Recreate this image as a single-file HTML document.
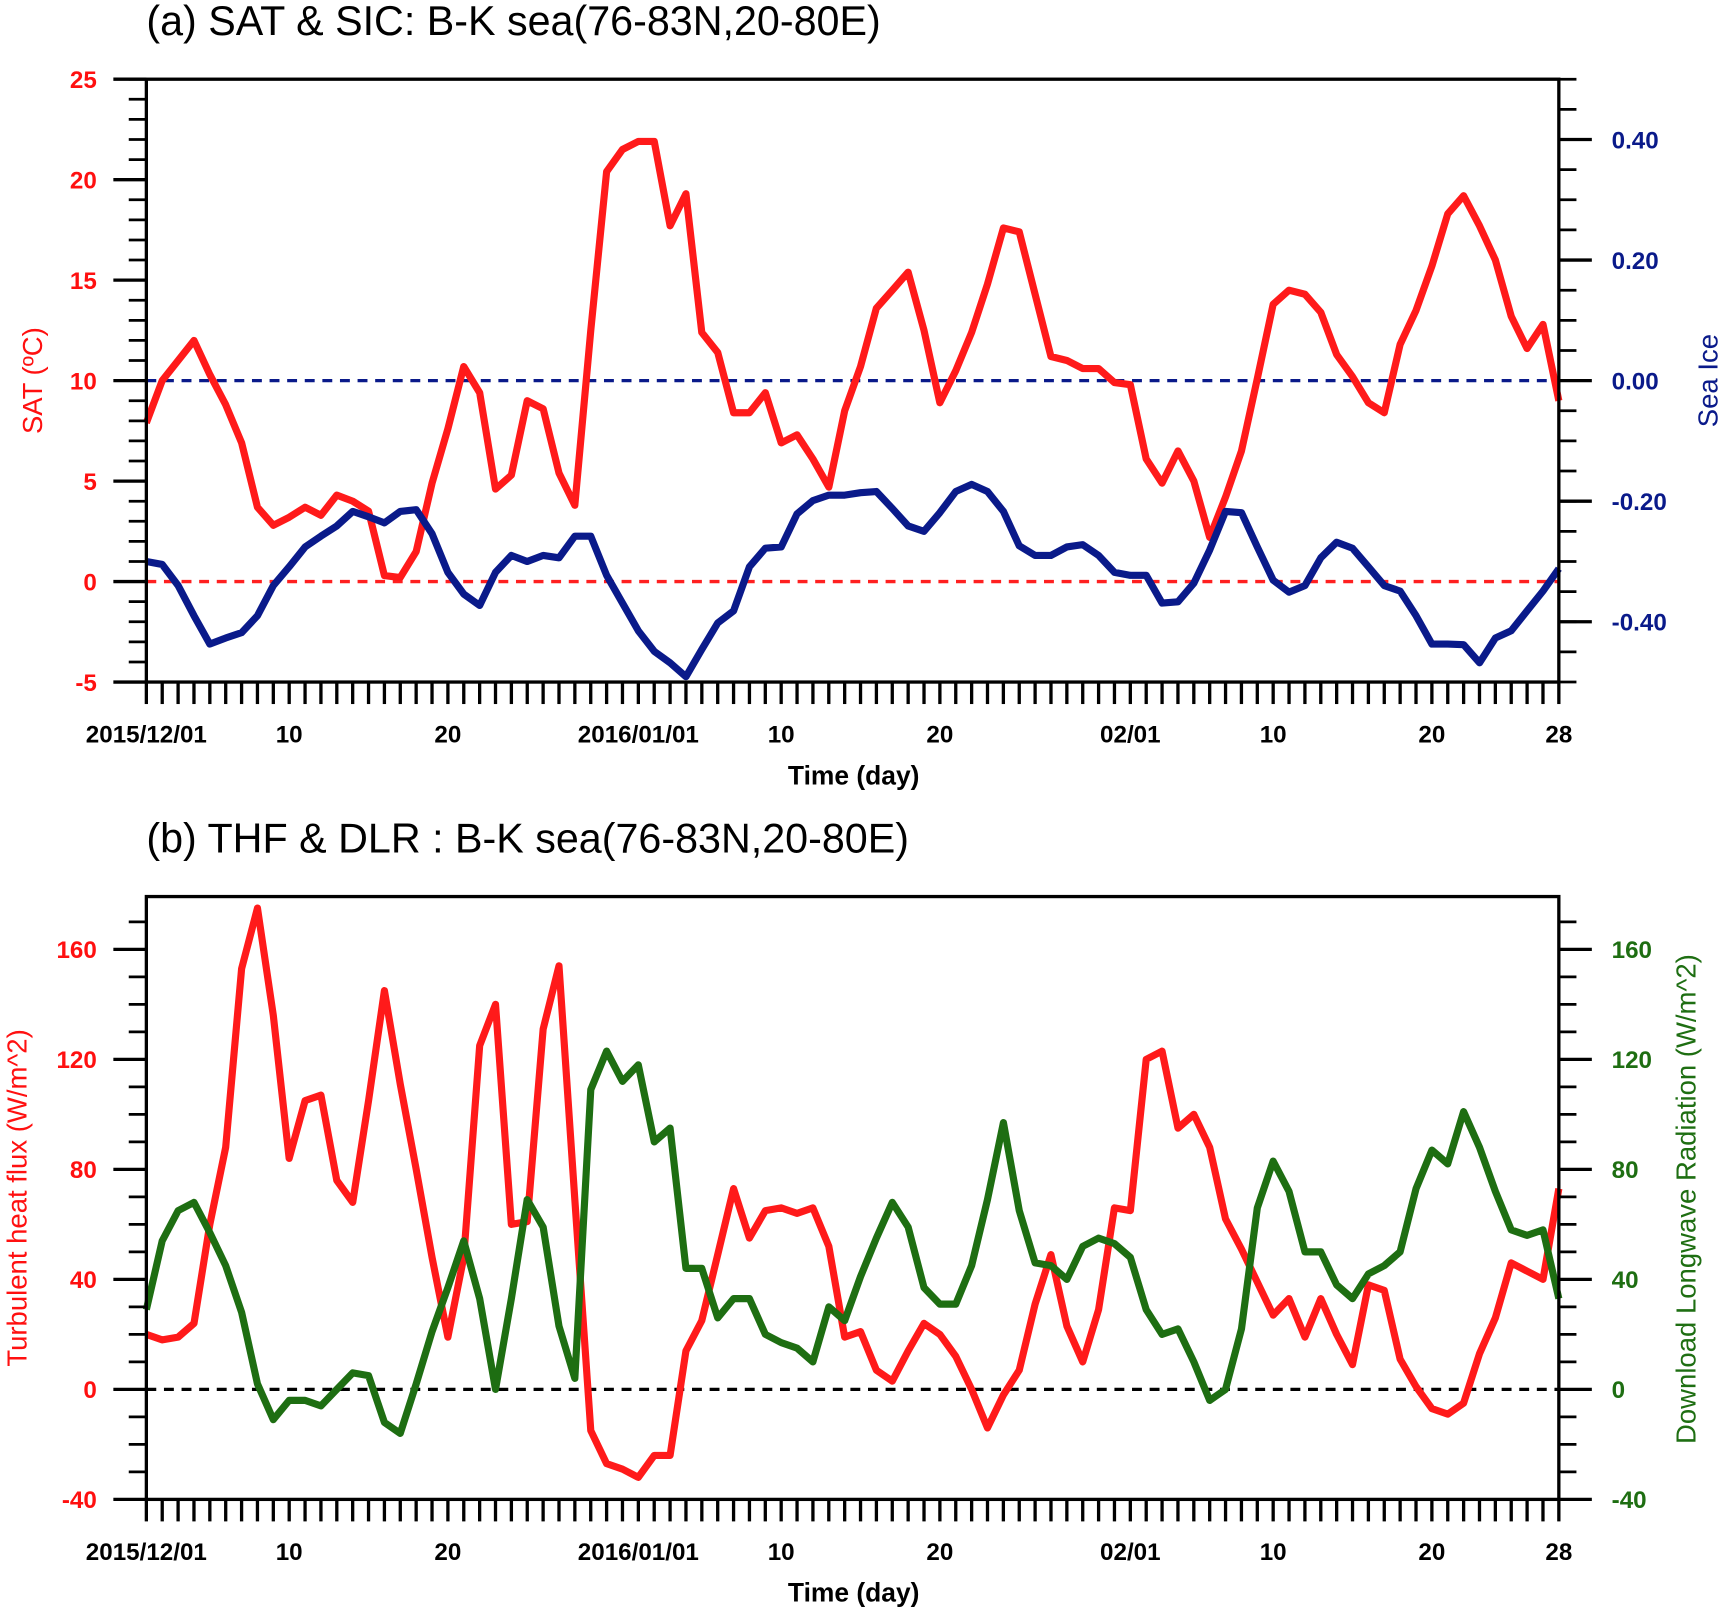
<!DOCTYPE html>
<html><head><meta charset="utf-8"><style>
html,body{margin:0;padding:0;background:#fff;}
svg{display:block;font-family:"Liberation Sans",Arial,sans-serif;}
</style></head><body>
<svg id="chart" width="1725" height="1616" viewBox="0 0 1568 1469" xmlns="http://www.w3.org/2000/svg"></svg>
<script>
const days = Array.from({length:90},(_,i)=>i);
const dateTickDays = [0,9,19,31,40,50,62,71,81,89];
const dateTickLabels = ["2015/12/01","10","20","2016/01/01","10","20","02/01","10","20","28"];
const satValues = [7.9,10,11,12,10.3,8.8,6.9,3.7,2.8,3.2,3.7,3.3,4.3,4.0,3.5,0.3,0.2,1.5,4.9,7.6,10.7,9.4,4.6,5.3,9.0,8.6,5.4,3.8,12.5,20.4,21.5,21.9,21.9,17.7,19.3,12.4,11.4,8.4,8.4,9.4,6.9,7.3,6.1,4.7,8.5,10.7,13.6,14.5,15.4,12.5,8.9,10.5,12.4,14.8,17.6,17.4,14.3,11.2,11.0,10.6,10.6,9.9,9.8,6.1,4.9,6.5,5.0,2.2,4.2,6.5,10.1,13.8,14.5,14.3,13.4,11.3,10.2,8.9,8.4,11.8,13.5,15.7,18.3,19.2,17.7,16.0,13.2,11.6,12.8,9.0];
const sicValues = [-0.30,-0.305,-0.34,-0.39,-0.437,-0.427,-0.418,-0.39,-0.34,-0.309,-0.276,-0.258,-0.241,-0.217,-0.226,-0.236,-0.217,-0.214,-0.254,-0.318,-0.354,-0.373,-0.318,-0.29,-0.3,-0.29,-0.294,-0.258,-0.258,-0.323,-0.369,-0.415,-0.449,-0.468,-0.491,-0.446,-0.402,-0.382,-0.309,-0.278,-0.276,-0.221,-0.199,-0.19,-0.19,-0.186,-0.184,-0.212,-0.241,-0.25,-0.219,-0.184,-0.172,-0.184,-0.217,-0.274,-0.29,-0.29,-0.276,-0.272,-0.29,-0.318,-0.323,-0.323,-0.369,-0.367,-0.336,-0.281,-0.217,-0.219,-0.276,-0.331,-0.351,-0.34,-0.294,-0.268,-0.278,-0.309,-0.34,-0.349,-0.39,-0.437,-0.437,-0.438,-0.468,-0.427,-0.415,-0.382,-0.349,-0.312];
const thfValues = [20,18,19,24,60,88,153,175,136,84,105,107,76,68,105,145,111,80,48,19,48,125,140,60,61,131,154,69,-15,-27,-29,-32,-24,-24,14,25,49,73,55,65,66,64,66,52,19,21,7,3,14,24,20,12,0,-14,-2,7,31,49,23,10,29,66,65,120,123,95,100,88,62,51,39,27,33,19,33,20,9,38,36,11,1,-7,-9,-5,13,26,46,43,40,73];
const dlrValues = [29,54,65,68,57,45,28,2,-11,-4,-4,-6,0,6,5,-12,-16,2,21,37,54,33,0,33,69,59,23,4,109,123,112,118,90,95,44,44,26,33,33,20,17,15,10,30,25,41,55,68,59,37,31,31,45,69,97,65,46,45,40,52,55,53,48,29,20,22,10,-4,0,22,66,83,72,50,50,38,33,42,45,50,73,87,82,101,88,72,58,56,58,33];
const satTicks = [-5,0,5,10,15,20,25];
const sicTicks = [-0.4,-0.2,0,0.2,0.4];
const fluxTicks = [-40,0,40,80,120,160];

const svg = document.getElementById('chart');
const NS = 'http://www.w3.org/2000/svg';
function el(tag, attrs, parent){const e=document.createElementNS(NS,tag);for(const k in attrs)e.setAttribute(k,attrs[k]);(parent||svg).appendChild(e);return e;}
function txt(x,y,s,attrs,parent){const t=el('text',Object.assign({x:x,y:y},attrs),parent);t.textContent=s;return t;}
const X0=133,X1=1417;
function xs(d){return X0+(X1-X0)*d/89;}

function drawPanel(cfg){
  const g=el('g',{});
  
  
  const T=cfg.top,B=cfg.bottom;
  const yl=v=>B-(B-T)*(v-cfg.lmin)/(cfg.lmax-cfg.lmin);
  const yr=v=>B-(B-T)*(v-cfg.rmin)/(cfg.rmax-cfg.rmin);
  const ti=txt(133,T-40,cfg.title,{'font-size':37.5,fill:'#000'},g);
  
  el('line',{x1:X0,x2:X1,y1:cfg.dash1(yl,yr),y2:cfg.dash1(yl,yr),stroke:cfg.dash1c,'stroke-width':3,'stroke-dasharray':'9,7'},g);
  if(cfg.dash2) el('line',{x1:X0,x2:X1,y1:cfg.dash2(yl,yr),y2:cfg.dash2(yl,yr),stroke:cfg.dash2c,'stroke-width':3,'stroke-dasharray':'9,7'},g);
  cfg.series.forEach(s=>{
    const pts=days.map((d,i)=>xs(d).toFixed(1)+','+(s.axis==='l'?yl(s.vals[i]):yr(s.vals[i])).toFixed(1)).join(' ');
    const p=el('polyline',{points:pts,fill:'none',stroke:s.color,'stroke-width':6.5,'stroke-linejoin':'round'},g);
    
  });
  el('rect',{x:X0,y:T,width:X1-X0,height:B-T,fill:'none',stroke:'#000','stroke-width':3},g);
  for(let v=cfg.lmin;v<=cfg.lmax+1e-9;v+=cfg.lminor){
    const y=yl(v);el('line',{x1:X0-16,x2:X0,y1:y,y2:y,stroke:'#000','stroke-width':2.5},g);
  }
  cfg.lticks.forEach(v=>{const y=yl(v);el('line',{x1:X0-30,x2:X0,y1:y,y2:y,stroke:'#000','stroke-width':3},g);
    const t=txt(88,y+8,String(v),{'font-size':22,'font-weight':'bold',fill:'#ff1010','text-anchor':'end'},g);
    });
  for(let v=cfg.rmin0;v<=cfg.rmax+1e-9;v+=cfg.rminor){
    const y=yr(v);if(y<T-1||y>B+1)continue;el('line',{x1:X1,x2:X1+16,y1:y,y2:y,stroke:'#000','stroke-width':2.5},g);
  }
  cfg.rticks.forEach(v=>{const y=yr(v);el('line',{x1:X1,x2:X1+30,y1:y,y2:y,stroke:'#000','stroke-width':3},g);
    const t=txt(1465,y+8,cfg.rfmt(v),{'font-size':22,'font-weight':'bold',fill:cfg.rcolor},g);
    });
  days.forEach(d=>{el('line',{x1:xs(d),x2:xs(d),y1:B,y2:B+20,stroke:'#000','stroke-width':3},g);});
  dateTickDays.forEach((d,i)=>{const t=txt(xs(d),B+55,dateTickLabels[i],{'font-size':22,'font-weight':'bold',fill:'#000','text-anchor':'middle'},g);
    });
  const xt=txt(776,B+93,'Time (day)',{'font-size':24,'font-weight':'bold',fill:'#000','text-anchor':'middle'},g);
  
  const ly=(T+B)/2;
  const lt=txt(0,0,cfg.ltitle,{'font-size':25,fill:'#ff1010','text-anchor':'middle',transform:`translate(${cfg.ltx},${ly}) rotate(-90)`},g);
  
  const rt=txt(0,0,cfg.rtitle,{'font-size':25,fill:cfg.rcolor,'text-anchor':'middle',transform:`translate(${cfg.rtx},${cfg.rty}) rotate(-90)`},g);
  
}

drawPanel({name:'panel-a',title:'(a) SAT & SIC: B-K sea(76-83N,20-80E)',top:72,bottom:620,
  lmin:-5,lmax:25,lminor:1,lticks:satTicks,
  rmin:-0.5,rmax:0.5,rmin0:-0.5,rminor:0.05,rticks:sicTicks,rfmt:v=>v.toFixed(2),rcolor:'#0a1a8a',
  dash1:(yl,yr)=>yl(0),dash1c:'#ff2020',dash2:(yl,yr)=>yr(0),dash2c:'#0a1a8a',
  series:[{name:'sat-line',vals:satValues,axis:'l',color:'#ff1a1a'},{name:'sic-line',vals:sicValues,axis:'r',color:'#0a1a8a'}],
  ltitle:'SAT (\u00BAC)',ltx:38,rtitle:'Sea Ice',rtx:1561,rty:346});

drawPanel({name:'panel-b',title:'(b) THF & DLR : B-K sea(76-83N,20-80E)',top:815,bottom:1363,
  lmin:-40,lmax:179.2,lminor:10,lticks:fluxTicks,
  rmin:-40,rmax:179.2,rmin0:-40,rminor:10,rticks:fluxTicks,rfmt:v=>String(v),rcolor:'#1e6e12',
  dash1:(yl,yr)=>yl(0),dash1c:'#000',dash2:null,
  series:[{name:'thf-line',vals:thfValues,axis:'l',color:'#ff1a1a'},{name:'dlr-line',vals:dlrValues,axis:'r',color:'#1e6e12'}],
  ltitle:'Turbulent heat flux (W/m^2)',ltx:24,rtitle:'Download Longwave Radiation (W/m^2)',rtx:1541,rty:1090});
</script>
</body></html>
